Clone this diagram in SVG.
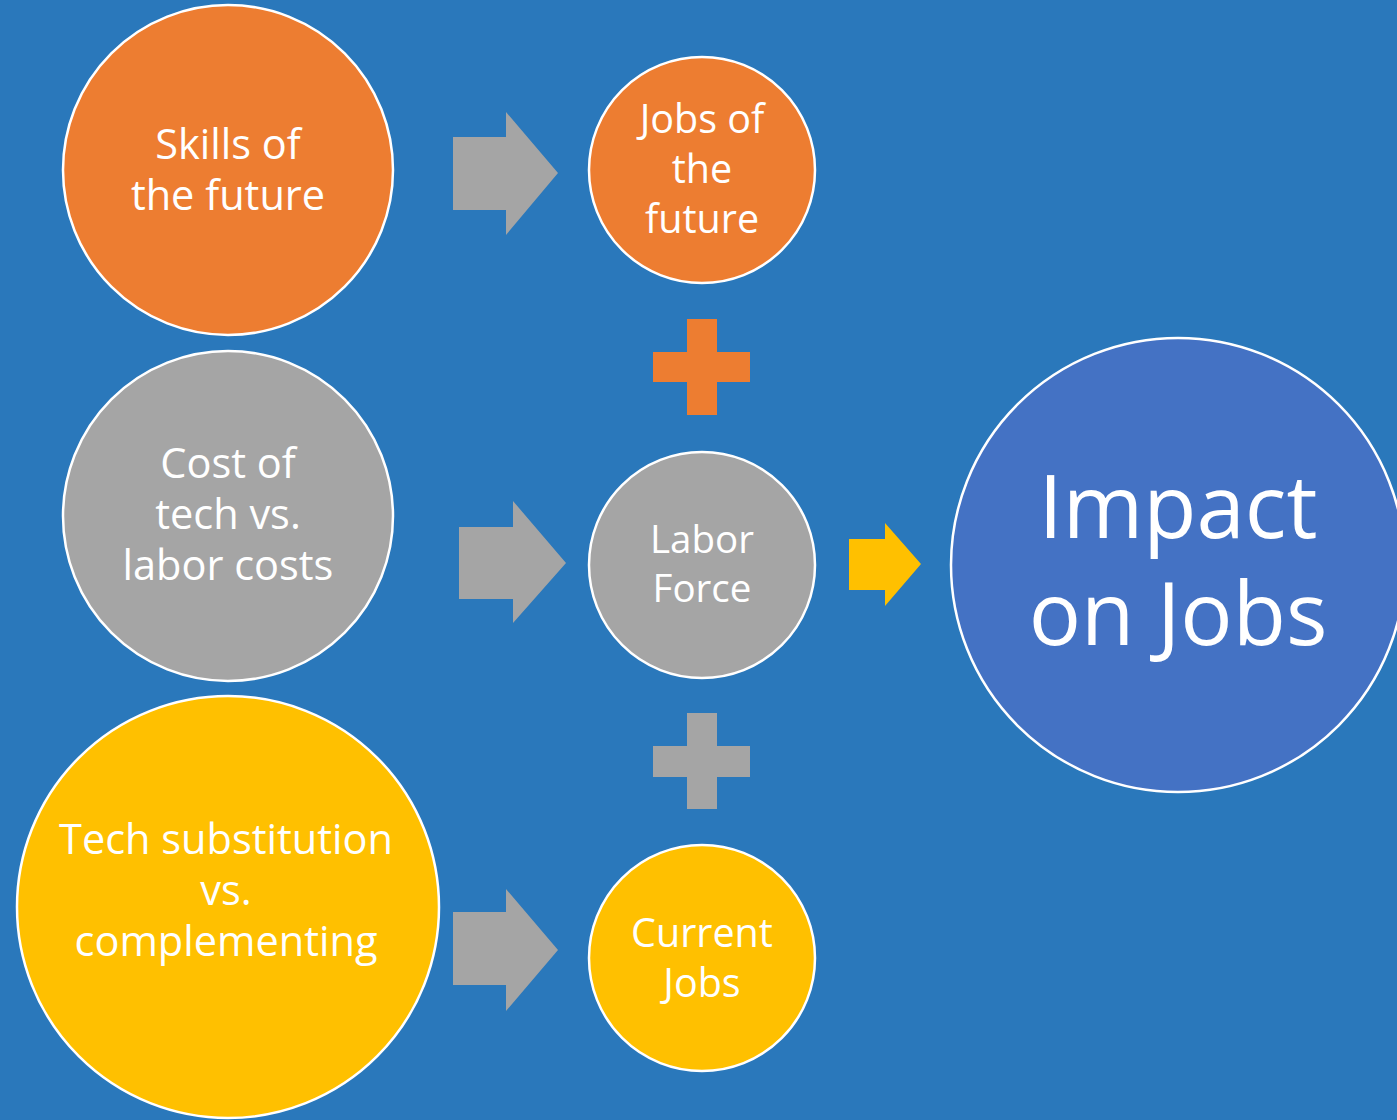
<svg xmlns="http://www.w3.org/2000/svg" width="1397" height="1120" viewBox="0 0 1397 1120">
  <style>
    .node { stroke: #ffffff; stroke-width: 2.5; }
    .orange { fill: #ED7D31; }
    .grey { fill: #A5A5A5; }
    .yellow { fill: #FFC000; }
    .blue { fill: #4472C4; }
    .label { font-family: "Open Sans", "Noto Sans", "Liberation Sans", sans-serif; fill: #ffffff; text-anchor: middle; }
    .big { font-size: 41.5px; }
    .small { font-size: 39.5px; }
    .mid { font-size: 38.5px; }
    .huge { font-size: 87px; }
  </style>
  <rect width="1397" height="1120" fill="#2A78BB"/>

  <!-- block arrows and plus signs -->
  <g id="connectors">
    <polygon class="grey" points="453,137 506,137 506,112 558,173 506,235 506,210 453,210"/>
    <polygon class="grey" points="459,527 513,527 513,501 566,563 513,623 513,599 459,599"/>
    <polygon class="grey" points="453,912 506,912 506,889 558,950 506,1011 506,985 453,985"/>
    <polygon class="yellow" points="849,539 885,539 885,523 921,564 885,606 885,590 849,590"/>
    <path class="orange" d="M687,319 H717 V352 H750 V382 H717 V415 H687 V382 H653 V352 H687 Z"/>
    <path class="grey" d="M687,713 H717 V746 H750 V777 H717 V809 H687 V777 H653 V746 H687 Z"/>
  </g>

  <g id="skills">
    <circle class="node orange" cx="228" cy="170" r="165"/>
    <text class="label big"><tspan x="228" y="159">Skills of</tspan><tspan x="228" y="210">the future</tspan></text>
  </g>

  <g id="cost">
    <circle class="node grey" cx="228" cy="516" r="165"/>
    <text class="label big"><tspan x="228" y="478">Cost of</tspan><tspan x="228" y="529">tech vs.</tspan><tspan x="228" y="580">labor costs</tspan></text>
  </g>

  <g id="substitution">
    <circle class="node yellow" cx="228" cy="907" r="211"/>
    <text class="label big"><tspan x="226" y="854">Tech substitution</tspan><tspan x="226" y="905">vs.</tspan><tspan x="226" y="956">complementing</tspan></text>
  </g>

  <g id="jobs-future">
    <circle class="node orange" cx="702" cy="170" r="113"/>
    <text class="label small"><tspan x="702" y="133">Jobs of</tspan><tspan x="702" y="183">the</tspan><tspan x="702" y="233">future</tspan></text>
  </g>

  <g id="labor-force">
    <circle class="node grey" cx="702" cy="565" r="113"/>
    <text class="label mid"><tspan x="702" y="553">Labor</tspan><tspan x="702" y="602">Force</tspan></text>
  </g>

  <g id="current-jobs">
    <circle class="node yellow" cx="702" cy="958" r="113"/>
    <text class="label small"><tspan x="702" y="947">Current</tspan><tspan x="702" y="997">Jobs</tspan></text>
  </g>

  <g id="impact">
    <circle class="node blue" cx="1178" cy="565" r="227"/>
    <text class="label huge"><tspan x="1178" y="538">Impact</tspan><tspan x="1178" y="645">on Jobs</tspan></text>
  </g>
</svg>
